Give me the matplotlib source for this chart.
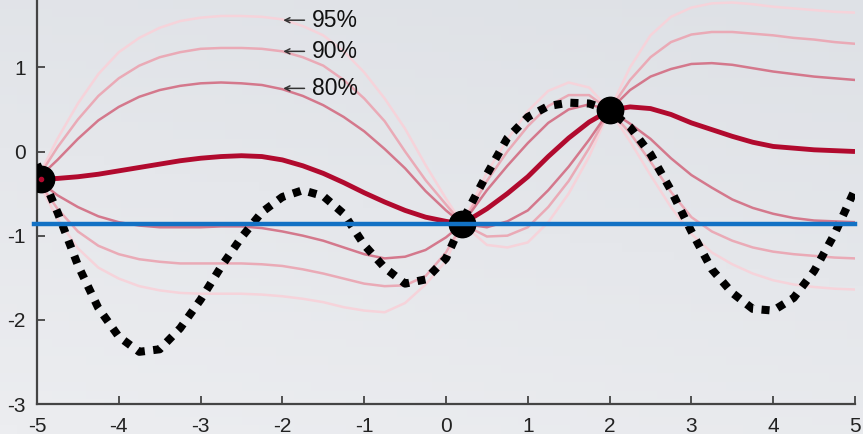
import numpy as np
import matplotlib
matplotlib.use('Agg')
import matplotlib.pyplot as plt

plt.rcParams['font.family'] = ['Liberation Sans', 'DejaVu Sans']
plt.rcParams['axes.unicode_minus'] = False

# x grid the posterior curves were read on
xs = [-5, -4.75, -4.5, -4.25, -4, -3.75, -3.5, -3.25, -3, -2.75, -2.5, -2.25,
      -2, -1.75, -1.5, -1.25, -1, -0.75, -0.5, -0.25, 0, 0.2, 0.5, 0.75, 1,
      1.25, 1.5, 1.75, 2, 2.25, 2.5, 2.75, 3, 3.25, 3.5, 3.75, 4, 4.25, 4.5,
      4.75, 5]

mean = [-0.33, -0.32, -0.30, -0.27, -0.23, -0.19, -0.15, -0.11, -0.08, -0.06,
        -0.05, -0.06, -0.10, -0.17, -0.26, -0.37, -0.49, -0.60, -0.70, -0.78,
        -0.83, -0.86, -0.68, -0.50, -0.30, -0.06, 0.16, 0.35, 0.49, 0.53, 0.51,
        0.44, 0.34, 0.26, 0.18, 0.11, 0.06, 0.04, 0.02, 0.01, 0.00]

upper80 = [-0.33, -0.10, 0.15, 0.37, 0.53, 0.65, 0.73, 0.78, 0.81, 0.82, 0.81,
           0.79, 0.74, 0.66, 0.55, 0.41, 0.24, 0.03, -0.20, -0.47, -0.70,
           -0.86, -0.46, -0.17, 0.10, 0.34, 0.50, 0.56, 0.49, 0.73, 0.89, 0.98,
           1.04, 1.05, 1.03, 0.99, 0.95, 0.92, 0.89, 0.87, 0.85]
lower80 = [-0.33, -0.52, -0.66, -0.77, -0.84, -0.88, -0.90, -0.90, -0.90, -0.89,
           -0.89, -0.91, -0.95, -1.00, -1.06, -1.14, -1.22, -1.27, -1.25, -1.17,
           -1.02, -0.86, -0.90, -0.83, -0.70, -0.46, -0.18, 0.14, 0.49, 0.33,
           0.15, -0.08, -0.28, -0.43, -0.57, -0.67, -0.74, -0.79, -0.82, -0.83,
           -0.84]
upper90 = [-0.33, 0.05, 0.38, 0.66, 0.87, 1.02, 1.12, 1.18, 1.22, 1.23, 1.23,
           1.22, 1.19, 1.12, 1.02, 0.85, 0.63, 0.36, 0.00, -0.34, -0.63, -0.86,
           -0.35, 0.00, 0.30, 0.54, 0.67, 0.67, 0.49, 0.85, 1.12, 1.30, 1.39,
           1.42, 1.42, 1.40, 1.38, 1.35, 1.33, 1.30, 1.28]
lower90 = [-0.33, -0.68, -0.95, -1.12, -1.22, -1.28, -1.31, -1.33, -1.33, -1.33,
           -1.33, -1.34, -1.36, -1.40, -1.45, -1.51, -1.57, -1.60, -1.59, -1.48,
           -1.20, -0.86, -1.01, -1.00, -0.90, -0.66, -0.35, 0.04, 0.49, 0.22,
           -0.12, -0.48, -0.78, -0.95, -1.06, -1.14, -1.19, -1.22, -1.24, -1.26,
           -1.27]
upper95 = [-0.33, 0.15, 0.57, 0.92, 1.18, 1.35, 1.47, 1.55, 1.59, 1.61, 1.61,
           1.60, 1.57, 1.49, 1.38, 1.19, 0.94, 0.63, 0.27, -0.16, -0.56, -0.86,
           -0.25, 0.14, 0.48, 0.72, 0.82, 0.76, 0.49, 1.00, 1.38, 1.60, 1.71,
           1.76, 1.77, 1.75, 1.72, 1.70, 1.68, 1.66, 1.65]
lower95 = [-0.33, -0.80, -1.15, -1.38, -1.51, -1.60, -1.65, -1.68, -1.69, -1.69,
           -1.69, -1.70, -1.72, -1.75, -1.79, -1.85, -1.89, -1.91, -1.80, -1.58,
           -1.30, -0.86, -1.11, -1.14, -1.08, -0.84, -0.50, -0.06, 0.49, 0.12,
           -0.28, -0.66, -0.98, -1.20, -1.34, -1.45, -1.53, -1.58, -1.61, -1.63,
           -1.64]

# true (hidden) function, dotted
xs_true = [-5, -4.75, -4.5, -4.25, -4, -3.75, -3.5, -3.25, -3, -2.75, -2.5,
           -2.25, -2, -1.75, -1.5, -1.25, -1, -0.75, -0.5, -0.25, 0, 0.25, 0.5,
           0.75, 1, 1.25, 1.5, 1.75, 2, 2.25, 2.5, 2.75, 3, 3.25, 3.5, 3.75, 4,
           4.25, 4.5, 4.75, 5]
f_true = [-0.15, -0.72, -1.35, -1.86, -2.20, -2.38, -2.35, -2.10, -1.76, -1.37,
          -1.02, -0.72, -0.54, -0.46, -0.53, -0.74, -1.11, -1.38, -1.57, -1.52,
          -1.27, -0.73, -0.27, 0.16, 0.41, 0.54, 0.58, 0.57, 0.49, 0.29, -0.03,
          -0.46, -0.95, -1.40, -1.68, -1.87, -1.89, -1.74, -1.42, -0.98, -0.45]

# observations
obs_x = [-4.95, 0.2, 2.0]
obs_y = [-0.33, -0.86, 0.49]
best_y = -0.86

band_labels = ['95%', '90%', '80%']
label_y = [1.56, 1.19, 0.75]

W, H = 863, 434
fig = plt.figure(figsize=(W / 100, H / 100), dpi=100)

# soft grey backdrop
bg = fig.add_axes([0, 0, 1, 1], zorder=-10)
gy = np.linspace(0, 1, 50)[:, None]
gx = np.linspace(0, 1, 50)[None, :]
top = np.array([222, 225, 230]) / 255
bot = np.array([236, 237, 240]) / 255
t = np.clip(0.75 * gy + 0.25 * (1 - gx), 0, 1)[..., None]
bg.imshow(top * (1 - t) + bot * t, aspect='auto', extent=[0, 1, 0, 1])
bg.axis('off')

ax = fig.add_axes([37 / W, 1 - 404 / H, (855 - 37) / W, 404 / H])
ax.patch.set_alpha(0)

c80 = '#d4788c'
c90 = '#eaaab6'
c95 = '#f6d3da'
cmean = '#b10a2e'

ax.plot(xs, upper95, color=c95, lw=1.8, zorder=2)
ax.plot(xs, lower95, color=c95, lw=1.8, zorder=2)
ax.plot(xs, upper90, color=c90, lw=1.8, zorder=2)
ax.plot(xs, lower90, color=c90, lw=1.8, zorder=2)
ax.plot(xs, upper80, color=c80, lw=1.8, zorder=2)
ax.plot(xs, lower80, color=c80, lw=1.8, zorder=2)
ax.plot(xs, mean, color=cmean, lw=3.5, zorder=3, solid_capstyle='butt')

ax.plot(xs_true, f_true, color='black', lw=5.8, zorder=4,
        linestyle=(0, (1, 1.05)), dash_capstyle='butt')

ax.plot(obs_x, obs_y, 'o', color='black', ms=19, zorder=5)
ax.plot(obs_x[:1], obs_y[:1], 'o', color=cmean, ms=3, zorder=6)

ax.axhline(best_y, xmin=-0.004, xmax=1.0, color='#1271c4', lw=3.2, zorder=7,
           clip_on=False)

for lab, yy in zip(band_labels, label_y):
    ax.annotate('', xy=(-1.99, yy), xytext=(-1.73, yy),
                arrowprops=dict(arrowstyle='->', color='#333333', lw=1.1,
                                shrinkA=0, shrinkB=0, mutation_scale=9))
    ax.text(-1.64, yy, lab, fontsize=16.5, va='center', ha='left',
            color='#111111')

ax.set_xlim(-5, 5)
ax.set_ylim(-3, 1.8)
ax.set_xticks([-5, -4, -3, -2, -1, 0, 1, 2, 3, 4, 5])
ax.set_yticks([-3, -2, -1, 0, 1])
for s in ['top', 'right']:
    ax.spines[s].set_visible(False)
for s in ['left', 'bottom']:
    ax.spines[s].set_color('#444444')
    ax.spines[s].set_linewidth(1.6)
ax.tick_params(direction='in', length=6, width=1.3, color='#444444',
               labelsize=15, labelcolor='#222222')
ax.tick_params(axis='y', pad=8)
ax.tick_params(axis='x', pad=9)

fig.savefig('out.png', dpi=100)
